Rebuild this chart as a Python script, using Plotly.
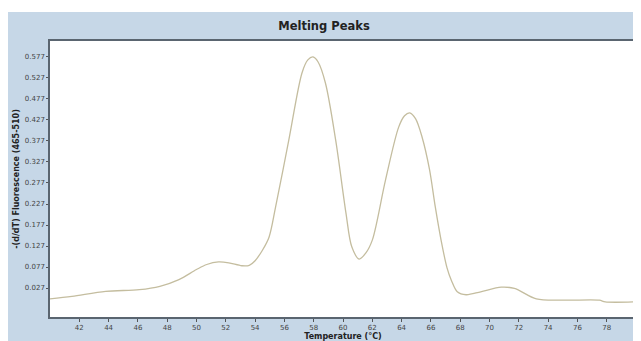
import plotly.graph_objects as go

# Data
temperature = [40.0, 41.5, 43.8, 46.1, 47.5, 48.8, 50.0, 50.7, 51.5, 52.2, 53.1, 53.6,
               54.0, 54.5, 54.95, 55.4, 56.3, 57.2, 57.6, 57.95, 58.3, 58.8, 59.5, 60.2,
               60.6, 61.1, 61.55, 62.0, 62.9, 63.8, 64.2, 64.55, 64.95, 65.4, 65.9, 66.3,
               66.7, 67.1, 67.4, 67.8, 68.4, 69.4, 70.8, 71.7, 73.2, 75.1, 77.5, 77.9, 80.0]
fluorescence = [0.001, 0.007, 0.019, 0.023, 0.031, 0.047, 0.071, 0.083, 0.089, 0.087, 0.080, 0.081,
                0.092, 0.117, 0.148, 0.220, 0.379, 0.539, 0.570, 0.577, 0.565, 0.515, 0.379, 0.206,
                0.125, 0.096, 0.110, 0.141, 0.284, 0.410, 0.437, 0.444, 0.430, 0.386, 0.310, 0.220,
                0.140, 0.075, 0.045, 0.018, 0.011, 0.018, 0.029, 0.026, 0.001, -0.002, -0.002,
                -0.006, -0.006]

x_ticks = [42, 44, 46, 48, 50, 52, 54, 56, 58, 60, 62, 64, 66, 68, 70, 72, 74, 76, 78]
y_ticks = [0.027, 0.077, 0.127, 0.177, 0.227, 0.277, 0.327, 0.377, 0.427, 0.477, 0.527, 0.577]
y_tick_labels = ["0.027", "0.077", "0.127", "0.177", "0.227", "0.277", "0.327", "0.377",
                 "0.427", "0.477", "0.527", "0.577"]

# The page body has the browser's default 8px margin, so the figure starts at (8, 8)
W, H = 633, 333
L, R, T, B = 42, 5, 33, 24
pw, ph = W - L - R, H - T - B
FONT = "DejaVu Sans, Verdana, sans-serif"

fig = go.Figure()
fig.add_trace(go.Scatter(x=temperature, y=fluorescence, mode="lines",
                         line=dict(color="#c4bd9f", width=1.3, shape="spline", smoothing=0.9),
                         hoverinfo="x+y", showlegend=False))

panel_color = "#c6d7e7"
fig.update_layout(
    width=W, height=H,
    margin=dict(l=L, r=R, t=T, b=B, pad=0, autoexpand=False),
    paper_bgcolor="white",
    plot_bgcolor="white",
    shapes=[
        dict(type="rect", xref="paper", yref="paper", layer="below",
             x0=-L / pw, x1=(W - L) / pw + 0.01,
             y0=-(B + 2) / ph, y1=(ph + T - 4) / ph,
             fillcolor=panel_color, line=dict(width=0)),
        dict(type="rect", xref="paper", yref="paper", layer="below",
             x0=0, x1=1, y0=0, y1=1,
             fillcolor="white", line=dict(width=0)),
    ],
    title=dict(text="<b>Melting Peaks</b>", x=316 / W, xanchor="center",
               y=1 - 18 / H, yanchor="middle",
               font=dict(family=FONT, size=11.5, color="#222")),
    xaxis=dict(range=[40, 80], tickvals=x_ticks, ticks="outside", ticklen=3,
               tickcolor="#555", showgrid=False, zeroline=False, automargin=False,
               showline=True, linecolor="#5a6570", linewidth=1.5, mirror=True,
               tickfont=dict(family=FONT, size=7, color="#444"),
               title=dict(text="<b>Temperature (°C)</b>", standoff=1,
                          font=dict(family=FONT, size=8, color="#222"))),
    yaxis=dict(range=[-0.042, 0.615], tickvals=y_ticks, ticktext=y_tick_labels,
               ticks="outside", ticklen=2, tickcolor="#555",
               showgrid=False, zeroline=False, automargin=False,
               showline=True, linecolor="#5a6570", linewidth=1.5, mirror=True,
               tickfont=dict(family=FONT, size=7, color="#444"),
               title=dict(text="<b>-(d/dT) Fluorescence (465-510)</b>", standoff=4,
                          font=dict(family=FONT, size=8, color="#222"))),
)

fig.write_html("out.html")
